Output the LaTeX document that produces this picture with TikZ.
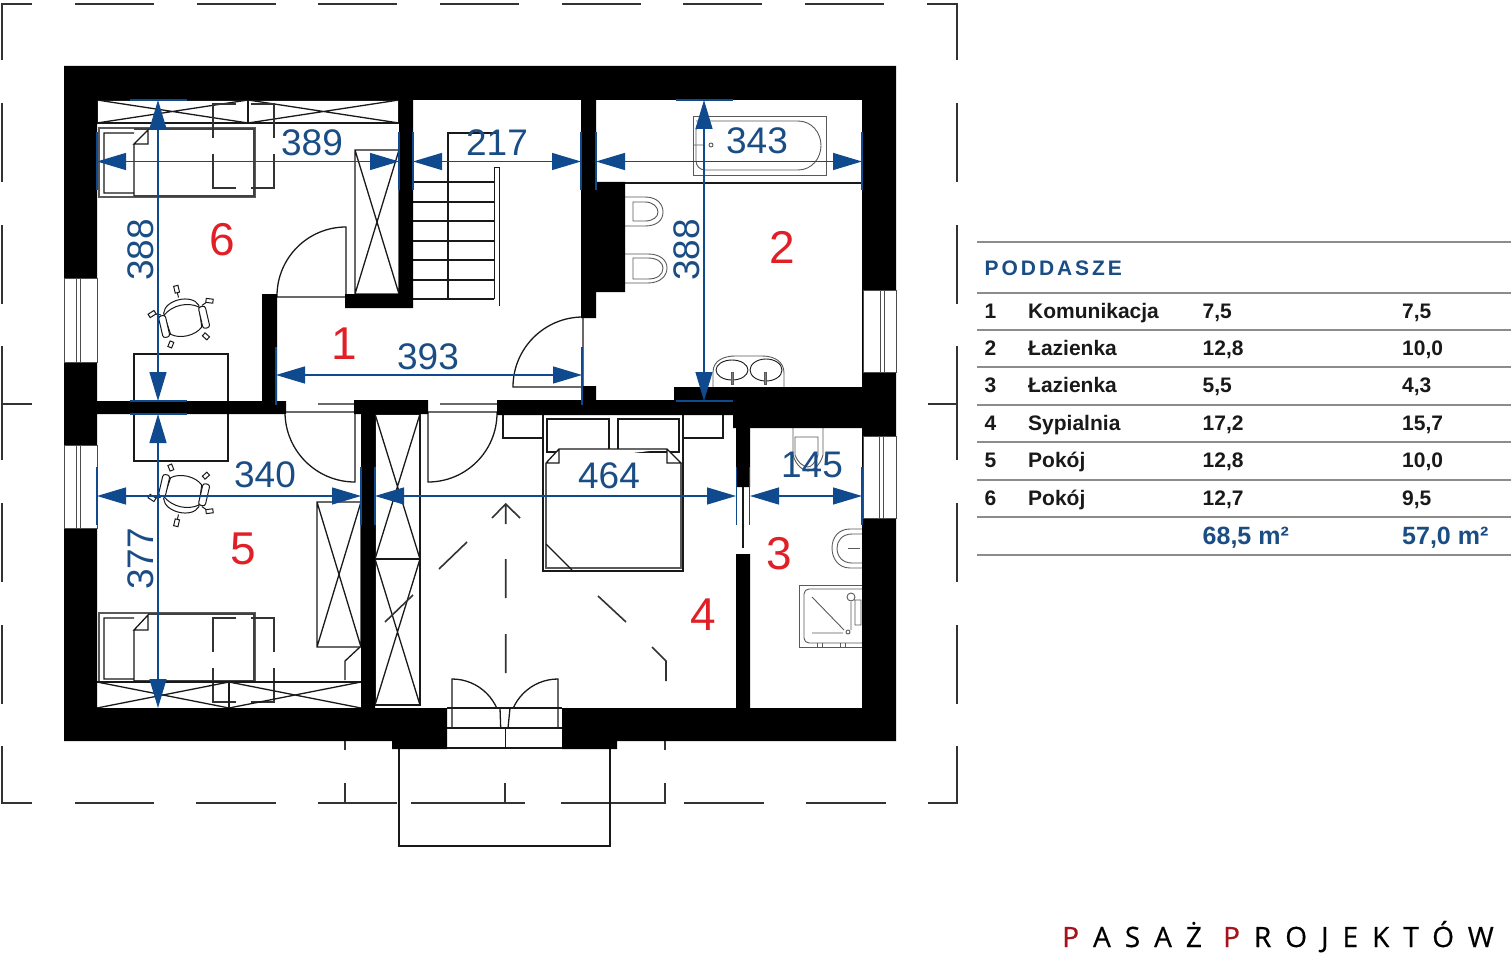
\documentclass[tikz,border=0pt]{standalone}
\usepackage{fontspec}
\setmainfont{Liberation Sans}
\newfontfamily\headfont[LetterSpace=14]{Liberation Sans}
\newfontfamily\logofont[LetterSpace=50,FakeBold=0.5]{Open Sans}
\usetikzlibrary{arrows.meta}
\definecolor{dimblue}{HTML}{0F4A8E}
\definecolor{labelblue}{HTML}{1B4D85}
\definecolor{roomred}{HTML}{E01F26}
\definecolor{logored}{HTML}{A5141E}

\begin{document}
\begin{tikzpicture}[
    x=1pt, y=-1pt,
    plan/.style={draw=black!90, line width=1.3pt},
    thinplan/.style={draw=black!65, line width=0.9pt},
    bedframe/.style={draw=black!75, line width=2.6pt},
    roofline/.style={draw=black!80, line width=1.6pt},
    wall/.style={fill=black},
    pane/.style={fill=white, draw=black!70, line width=0.9pt},
    dim/.style={{Triangle[length=29pt,width=17pt]}-{Triangle[length=29pt,width=17pt]}, draw=dimblue, line width=1.3pt},
    dimtick/.style={draw=dimblue, line width=1.4pt},
    dimlabel/.style={text=labelblue, inner sep=0pt, font=\fontsize{37}{37}\selectfont},
    roomno/.style={text=roomred, inner sep=0pt, font=\fontsize{46}{46}\selectfont},
    rulegrey/.style={draw=black!45, line width=1.6pt},
    cell/.style={anchor=base west, inner sep=0pt, text=black!90, font=\fontsize{21}{21}\selectfont\bfseries},
    totalcell/.style={anchor=base west, inner sep=0pt, text=labelblue, font=\fontsize{25}{25}\selectfont\bfseries},
    chairtop/.pic={
        \draw[plan, line width=1pt, fill=white] (-18,-8) .. controls (-14,-21) and (14,-21) .. (18,-8) -- (16,14) .. controls (8,21) and (-8,21) .. (-16,14) -- cycle;
        \draw[plan, line width=1pt] (-18,-6) .. controls (-8,-14) and (8,-14) .. (18,-6);
        \draw[plan, line width=1pt, fill=white, rounded corners=2.5pt] (-24,-6) rectangle (-17,16);
        \draw[plan, line width=1pt, fill=white, rounded corners=2.5pt] (17,-6) rectangle (24,16);
        \draw[plan, line width=1pt] (0,-20) -- (0,-25) (-21,-7) -- (-26,-9) (21,-7) -- (26,-9);
        \draw[plan, line width=1pt, fill=white] (-2.2,-32) rectangle (2.2,-25);
        \draw[plan, line width=1pt, fill=white, rotate around={20:(-29,-10)}] (-33,-12) rectangle (-26,-8);
        \draw[plan, line width=1pt, fill=white, rotate around={-20:(29,-10)}] (26,-12) rectangle (33,-8);
        \draw[plan, line width=1pt, fill=white, rotate around={-35:(-18,24)}] (-20,21) rectangle (-16,27);
        \draw[plan, line width=1pt, fill=white, rotate around={35:(18,24)}] (16,21) rectangle (20,27);
    }
]
\useasboundingbox (0,0) rectangle (1511,960);

% roof outline
\draw[roofline] (32,4) -- (2,4) -- (2,60);
\draw[roofline] (75,4) -- (154,4) (197,4) -- (276,4) (318,4) -- (397,4) (440,4) -- (519,4) (562,4) -- (641,4) (683,4) -- (762,4) (805,4) -- (884,4);
\draw[roofline] (927,4) -- (957,4) -- (957,60);
\draw[roofline] (957,103) -- (957,182) (957,225) -- (957,304) (957,346) -- (957,460) (957,503) -- (957,582) (957,625) -- (957,704);
\draw[roofline] (957,746) -- (957,803) -- (928,803);
\draw[roofline] (886,803) -- (806,803) (764,803) -- (684,803) (666,803) -- (561,803) (525,803) -- (411,803) (397,803) -- (318,803) (276,803) -- (196,803) (154,803) -- (75,803);
\draw[roofline] (32,803) -- (2,803) -- (2,746);
\draw[roofline] (2,103) -- (2,182) (2,225) -- (2,304) (2,346) -- (2,460) (2,503) -- (2,582) (2,625) -- (2,704);
\draw[roofline] (2,404) -- (32,404) (928,404) -- (957,404);
\draw[roofline] (345,741) -- (345,750) (345,783) -- (345,803) (505,783) -- (505,803) (665,741) -- (665,750) (665,783) -- (665,803);

% balcony
\draw[plan] (399,749) -- (399,846) -- (610,846) -- (610,749);

% room 6
\draw[plan] (97,100) rectangle (399,123) (248,100) -- (248,123);
\draw[plan] (97,100) -- (248,123) (97,123) -- (248,100) (248,100) -- (399,123) (248,123) -- (399,100);
\draw[thinplan, line width=1.3pt] (99,128) rectangle (255,197);
\draw[bedframe] (134,129) -- (254,129) -- (254,196) -- (134,196);
\draw[plan] (134,133) -- (104,133) -- (104,193) -- (134,193) (134,144) -- (134,196) (134,144) -- (148,130) -- (148,144) -- cycle;
\draw[roofline] (236,104) -- (213,104) -- (213,138) (213,154) -- (213,188) -- (236,188) (251,188) -- (274,188) -- (274,154) (274,138) -- (274,104) -- (251,104);
\draw[plan] (355,150) rectangle (399,294) (355,150) -- (399,294) (399,150) -- (355,294);
\draw[plan] (134,354) rectangle (228,461);
\pic at (183,317) [rotate=13] {chairtop};

% stairs
\draw[plan] (413,182) -- (494,182) (413,202) -- (494,202) (413,221) -- (494,221) (413,241) -- (494,241) (413,260) -- (494,260) (413,280) -- (494,280) (413,299) -- (494,299);
\draw[plan] (497,133) -- (448,133) -- (448,299);
\draw[plan, line width=1pt] (494,299) -- (494,168) -- (499,168) -- (499,306);

% doors
\draw[plan] (277,297) -- (345,297) (346,294) -- (346,227) arc[start angle=270, end angle=180, radius=69];
\draw[plan] (583,386) -- (583,317) arc[start angle=270, end angle=180, radius=70] -- (583,387);
\draw[plan] (285,412) -- (355,412) (318,404) -- (355,404) (355,412) -- (355,482) arc[start angle=90, end angle=180, radius=70];
\draw[plan] (428,412) -- (497,412) (440,404) -- (497,404) (428,412) -- (428,482) arc[start angle=90, end angle=0, radius=69];

% bathroom 2
\draw[plan] (625,183) -- (862,183);
\draw[thinplan] (693,116) rectangle (826,175);
\draw[thinplan, rounded corners=9pt] (696,121) -- (798,121) (798,170) -- (696,170) -- (696,121) -- (708,121);
\draw[thinplan] (798,121) .. controls (812,121) and (821,133) .. (821,145.5) .. controls (821,158) and (812,170) .. (798,170);
\draw[thinplan] (693,145) -- (704,145) (711,145) circle[radius=2];
\draw[thinplan] (625,197) -- (645,197) .. controls (657,197) and (663,204) .. (663,212) .. controls (663,220) and (657,226) .. (645,226) -- (625,226);
\draw[thinplan] (633,202) -- (645,202) .. controls (653,202) and (658,207) .. (658,212) .. controls (658,217) and (653,221) .. (645,221) -- (633,221) -- cycle;
\draw[thinplan] (625,254) -- (648,254) .. controls (660,254) and (667,260) .. (667,268) .. controls (667,276) and (660,283) .. (648,283) -- (625,283);
\draw[thinplan] (633,258) -- (648,258) .. controls (658,258) and (663,263) .. (663,268) .. controls (663,275) and (657,279) .. (648,279) -- (633,279) -- cycle;
\draw[thinplan] (713,387) -- (713,372) .. controls (713,360) and (725,356) .. (735,356) -- (762,356) .. controls (775,356) and (784,362) .. (784,373) -- (784,387);
\draw[plan, line width=0.9pt] (732,370) ellipse[x radius=16, y radius=10] (766,370) ellipse[x radius=16, y radius=11];
\draw[thinplan, fill=black!50, line width=0.6pt] (731,372) rectangle (733.5,384) (764,372) rectangle (766.5,384);

% room 5
\draw[plan] (317,502) rectangle (361,647) (317,502) -- (361,647) (361,502) -- (317,647);
\draw[plan] (360,647) -- (345,661) -- (345,680);
\draw[thinplan, line width=1.3pt] (99,613) rectangle (255,682);
\draw[bedframe] (134,681) -- (254,681) -- (254,614) -- (148,614);
\draw[plan] (134,618) -- (104,618) -- (104,679) -- (134,679) (134,630) -- (134,681) (134,630) -- (148,615) -- (148,630) -- cycle;
\draw[roofline] (236,618) -- (213,618) -- (213,652) (213,668) -- (213,702) -- (236,702) (251,702) -- (274,702) -- (274,668) (274,652) -- (274,618) -- (251,618);
\draw[plan] (97,682) -- (361,682) (229,682) -- (229,708);
\draw[plan] (97,708) -- (229,682) (97,682) -- (229,708) (229,708) -- (361,682) (229,682) -- (361,708);
\pic at (183,495) [yscale=-1, rotate=13] {chairtop};

% room 4
\draw[plan] (375,414) rectangle (420,705) (375,559) -- (420,559);
\draw[plan] (375,414) -- (420,559) (420,414) -- (375,559) (375,559) -- (420,705) (420,559) -- (375,705);
\draw[roofline] (385,622) -- (413,595) (439,569) -- (467,542) (598,596) -- (626,622);
\draw[roofline] (652,647) -- (666,661) -- (666,681);
\draw[roofline] (505.7,504) -- (505.7,524) (492,518) -- (505.7,504) -- (520,518) (505.7,559) -- (505.7,598) (505.7,634) -- (505.7,673);
\draw[plan] (503,415) -- (503,438) -- (543,438) (683,438) -- (723,438) -- (723,415);
\draw[plan] (543,415) -- (543,571) -- (683,571) -- (683,415);
\draw[thinplan, line width=1.2pt] (546,463) -- (546,568) -- (681,568) -- (681,463);
\draw[plan] (547,419) rectangle (609,452) (618,419) rectangle (679,452);
\draw[plan, fill=white] (546,463) -- (559,449) -- (667,449) -- (681,463) -- (667,463) -- (667,449) (559,449) -- (559,463) -- (546,463);
\draw[plan] (546,544) -- (572,570);

% doors to balcony
\draw[plan] (452,728) -- (452,679) arc[start angle=270, end angle=360, radius=49];
\draw[plan] (558,728) -- (558,679) arc[start angle=270, end angle=180, radius=49];

% bathroom 3
\draw[thinplan] (793,428) -- (793,455) .. controls (796,466) and (804,471) .. (808,471) .. controls (812,471) and (820,466) .. (823,455) -- (823,428);
\draw[thinplan] (795,437) -- (818,437) -- (818,455) .. controls (815,463) and (811,467) .. (808,467) .. controls (804,467) and (798,463) .. (795,455) -- cycle;
\draw[thinplan] (862,529) -- (850,529) .. controls (838,529) and (832,538) .. (832,548) .. controls (832,558) and (838,568) .. (850,568) -- (862,568);
\draw[thinplan] (862,534) -- (852,534) .. controls (842,534) and (837,541) .. (837,548) .. controls (837,556) and (842,563) .. (852,563) -- (862,563);
\draw[thinplan] (848,548) -- (860,548);
\draw[thinplan] (862,585) -- (799,585) -- (799,647) -- (862,647);
\draw[thinplan, rounded corners=5pt] (862,589) -- (804,589) -- (804,643) -- (862,643);
\draw[thinplan] (812,597) -- (844,630) (812,633) -- (843,633) (848,632) circle[radius=2];
\draw[thinplan] (851,602) -- (851,630) (855,600) rectangle (861,625) (851,597) circle[radius=4];
\draw[thinplan] (817,643) -- (817,647) (822,643) -- (822,647) (840,643) -- (840,647) (845,643) -- (845,647);

% walls
\fill[wall] (64,66) rectangle (896,100) (64,66) rectangle (97,741) (862,66) rectangle (896,741) (64,708) rectangle (447,741) (562,708) rectangle (896,741);
\fill[wall] (392,741) rectangle (447,749) (562,741) rectangle (617,749);
\fill[wall] (399,100) rectangle (413,308) (345,294) rectangle (413,308) (262,294) rectangle (277,401);
\fill[wall] (581,100) rectangle (596,318) (596,182) rectangle (625,292) (581,386) rectangle (596,401);
\fill[wall] (97,401) rectangle (286,414) (354,400) rectangle (428,414) (497,400) rectangle (736,415);
\fill[wall] (674,387) rectangle (862,401) (733,401) rectangle (862,428);
\fill[wall] (361,414) rectangle (375,708) (736,415) rectangle (750,487) (736,554) rectangle (750,708);

% windows and balcony door
\draw[pane] (64,278) rectangle (97,362) (76.5,278) -- (76.5,362) (80.5,278) -- (80.5,362);
\draw[pane] (64,445) rectangle (97,528) (76.5,445) -- (76.5,528) (80.5,445) -- (80.5,528);
\draw[pane] (863,290) rectangle (896,372) (880,290) -- (880,372) (884,290) -- (884,372);
\draw[pane] (863,436) rectangle (896,518) (879,436) -- (879,518) (883,436) -- (883,518);
\fill[white] (447.5,709) rectangle (561.5,748);
\draw[plan] (447,708) -- (562,708) (447,728) -- (562,728) (447,748) -- (562,748) (505.7,728) -- (505.7,748);
\draw[plan] (452,708) -- (452,728) (558,708) -- (558,728) (500,708) -- (500.7,728) (510,708) -- (508,728);
\draw[plan] (743,487) -- (743,548);

% dimension ticks
\draw[dimtick] (97,132) -- (97,190) (399,132) -- (399,190) (413,132) -- (413,190) (581,132) -- (581,190) (596,132) -- (596,190) (862,132) -- (862,190);
\draw[dimtick] (130,100) -- (187,100) (130,401) -- (187,401) (130,414) -- (187,414) (676,100) -- (733,100) (676,401) -- (733,401);
\draw[dimtick] (276,347) -- (276,405) (582,347) -- (582,405);
\draw[dimtick] (97,467) -- (97,525) (361,467) -- (361,525) (375,467) -- (375,525) (736.5,467) -- (736.5,525) (749.5,467) -- (749.5,525) (862,467) -- (862,525);

% dimension lines
\draw[dim] (97,161.5) -- (399,161.5);
\draw[dim] (413,161.5) -- (581,161.5);
\draw[dim] (596,161.5) -- (862,161.5);
\draw[dim] (158,100) -- (158,401);
\draw[dim] (704,100) -- (704,401);
\draw[dim] (276,375) -- (582,375);
\draw[dim] (97,496) -- (361,496);
\draw[dim] (375,496) -- (736,496);
\draw[dim] (750,496) -- (862,496);
\draw[dim] (158,414) -- (158,708);

\node[dimlabel] (len389) at (312,143) {389};
\node[dimlabel] (len217) at (497,143) {217};
\node[dimlabel] (len343) at (757,141) {343};
\node[dimlabel, rotate=90] (len388a) at (141,250) {388};
\node[dimlabel, rotate=90] (len388b) at (687,250) {388};
\node[dimlabel] (len393) at (428,357) {393};
\node[dimlabel] (len340) at (265,475) {340};
\node[dimlabel] (len464) at (609,476) {464};
\node[dimlabel] (len145) at (812,465) {145};
\node[dimlabel, rotate=90] (len377) at (141,559) {377};

\node[roomno] (room6) at (222,240) {6};
\node[roomno] (room1) at (344,344) {1};
\node[roomno] (room2) at (782,247) {2};
\node[roomno] (room3) at (779,554) {3};
\node[roomno] (room4) at (703,615) {4};
\node[roomno] (room5) at (243,549) {5};

% area table
\draw[rulegrey] (977,242) -- (1511,242) (977,293) -- (1511,293) (977,330) -- (1511,330) (977,367) -- (1511,367) (977,405) -- (1511,405) (977,442) -- (1511,442) (977,480) -- (1511,480) (977,517) -- (1511,517) (977,555) -- (1511,555);
\node[anchor=base west, inner sep=0pt, text=labelblue, font=\fontsize{21}{21}\selectfont\headfont\bfseries] (tabletitle) at (984.5,275) {PODDASZE};

\node[cell] (no1) at (984.5,318.3) {1};
\node[cell] (name1) at (1028,318.3) {Komunikacja};
\node[cell] (gross1) at (1202.5,318.3) {7,5};
\node[cell] (net1) at (1402,318.3) {7,5};
\node[cell] (no2) at (984.5,355.7) {2};
\node[cell] (name2) at (1028,355.7) {Łazienka};
\node[cell] (gross2) at (1202.5,355.7) {12,8};
\node[cell] (net2) at (1402,355.7) {10,0};
\node[cell] (no3) at (984.5,392.7) {3};
\node[cell] (name3) at (1028,392.7) {Łazienka};
\node[cell] (gross3) at (1202.5,392.7) {5,5};
\node[cell] (net3) at (1402,392.7) {4,3};
\node[cell] (no4) at (984.5,430) {4};
\node[cell] (name4) at (1028,430) {Sypialnia};
\node[cell] (gross4) at (1202.5,430) {17,2};
\node[cell] (net4) at (1402,430) {15,7};
\node[cell] (no5) at (984.5,467.3) {5};
\node[cell] (name5) at (1028,467.3) {Pokój};
\node[cell] (gross5) at (1202.5,467.3) {12,8};
\node[cell] (net5) at (1402,467.3) {10,0};
\node[cell] (no6) at (984.5,505) {6};
\node[cell] (name6) at (1028,505) {Pokój};
\node[cell] (gross6) at (1202.5,505) {12,7};
\node[cell] (net6) at (1402,505) {9,5};
\node[totalcell] (grosstotal) at (1202.5,544.3) {68,5 m²};
\node[totalcell] (nettotal) at (1402,544.3) {57,0 m²};

\node[anchor=base west, inner sep=0pt, font=\fontsize{28}{28}\selectfont\logofont] (logo) at (1062,947) {\textcolor{logored}{P}\kern14pt ASAŻ \textcolor{logored}{P}\kern14pt ROJEKTÓW};

\end{tikzpicture}
\end{document}
